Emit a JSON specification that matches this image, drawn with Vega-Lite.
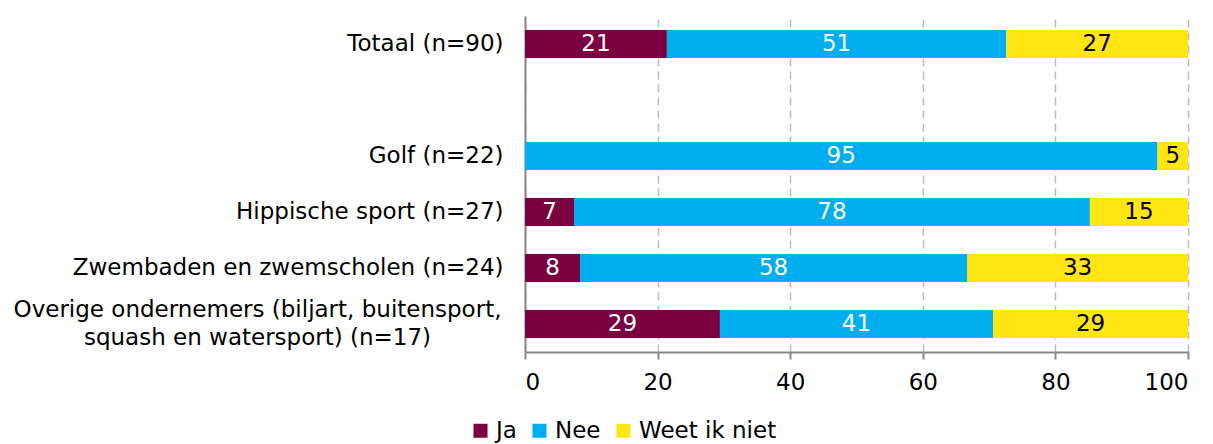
{
  "$schema": "https://vega.github.io/schema/vega-lite/v6.json",
  "autosize": "none",
  "width": 663,
  "height": 336,
  "padding": {"left": 525, "top": 16, "right": 25, "bottom": 92},
  "background": "white",
  "config": {
    "font": "DejaVu Sans",
    "view": {"stroke": null}
  },
  "data": {
    "values": [
      {"group": "Totaal (n=90)", "answer": "Ja", "order": 1, "value": 21.4},
      {"group": "Totaal (n=90)", "answer": "Nee", "order": 2, "value": 51.2},
      {"group": "Totaal (n=90)", "answer": "Weet ik niet", "order": 3, "value": 27.4},
      {"group": "Golf (n=22)", "answer": "Nee", "order": 2, "value": 95.4},
      {"group": "Golf (n=22)", "answer": "Weet ik niet", "order": 3, "value": 4.6},
      {"group": "Hippische sport (n=27)", "answer": "Ja", "order": 1, "value": 7.4},
      {"group": "Hippische sport (n=27)", "answer": "Nee", "order": 2, "value": 77.8},
      {"group": "Hippische sport (n=27)", "answer": "Weet ik niet", "order": 3, "value": 14.8},
      {"group": "Zwembaden en zwemscholen (n=24)", "answer": "Ja", "order": 1, "value": 8.3},
      {"group": "Zwembaden en zwemscholen (n=24)", "answer": "Nee", "order": 2, "value": 58.4},
      {"group": "Zwembaden en zwemscholen (n=24)", "answer": "Weet ik niet", "order": 3, "value": 33.3},
      {"group": "Overige ondernemers (biljart, buitensport,|squash en watersport) (n=17)", "answer": "Ja", "order": 1, "value": 29.4},
      {"group": "Overige ondernemers (biljart, buitensport,|squash en watersport) (n=17)", "answer": "Nee", "order": 2, "value": 41.2},
      {"group": "Overige ondernemers (biljart, buitensport,|squash en watersport) (n=17)", "answer": "Weet ik niet", "order": 3, "value": 29.4}
    ]
  },
  "transform": [
    {"stack": "value", "groupby": ["group"], "sort": [{"field": "order"}], "as": ["x0", "x1"]},
    {"calculate": "(datum.x0 + datum.x1) / 2", "as": "mid"}
  ],
  "encoding": {
    "y": {
      "field": "group",
      "type": "nominal",
      "scale": {
        "domain": ["Totaal (n=90)", " ", "Golf (n=22)", "Hippische sport (n=27)", "Zwembaden en zwemscholen (n=24)", "Overige ondernemers (biljart, buitensport,|squash en watersport) (n=17)"],
        "paddingInner": 0.5,
        "paddingOuter": 0.25
      },
      "axis": {
        "title": null,
        "labelExpr": "split(datum.label, '|')",
        "labelFontSize": 23,
        "labelColor": "black",
        "labelLineHeight": 28,
        "labelPadding": {"condition": {"test": "indexof(datum.value, '|') >= 0", "value": 268}, "value": 22},
        "labelAlign": {"condition": {"test": "indexof(datum.value, '|') >= 0", "value": "center"}, "value": "right"},
        "labelOffset": {"condition": {"test": "indexof(datum.value, '|') >= 0", "value": -14}, "value": 0},
        "labelLimit": 600,
        "ticks": false,
        "domainColor": "#888888",
        "domainWidth": 2
      }
    }
  },
  "layer": [
    {
      "mark": {"type": "bar"},
      "encoding": {
        "x": {
          "field": "x0",
          "type": "quantitative",
          "scale": {"domain": [0, 100], "nice": false},
          "axis": {
            "title": null,
            "values": [0, 20, 40, 60, 80, 100],
            "labelFontSize": 23,
            "labelColor": "black",
            "labelPadding": 12,
            "grid": true,
            "gridColor": "#bbbbbb",
            "gridDash": [8, 5],
            "gridWidth": 1.5,
            "domainColor": "#888888",
            "domainWidth": 2,
            "tickColor": "#888888",
            "tickWidth": 2,
            "tickSize": 7
          }
        },
        "x2": {"field": "x1"},
        "color": {
          "field": "answer",
          "type": "nominal",
          "scale": {"domain": ["Ja", "Nee", "Weet ik niet"], "range": ["#7a0040", "#00adef", "#ffe512"]},
          "legend": {
            "title": null,
            "orient": "none",
            "legendX": -56,
            "legendY": 403,
            "direction": "horizontal",
            "symbolType": "square",
            "symbolSize": 196,
            "symbolStrokeWidth": 0,
            "labelFontSize": 23,
            "labelColor": "black",
            "labelOffset": 4,
            "columnPadding": 11
          }
        }
      }
    },
    {
      "mark": {"type": "text", "fontSize": 23, "baseline": "middle", "align": "center"},
      "encoding": {
        "x": {"field": "mid", "type": "quantitative"},
        "text": {"field": "value", "type": "quantitative", "format": ".0f"},
        "color": {
          "condition": {"test": "datum.answer === 'Weet ik niet'", "value": "black"},
          "value": "white"
        }
      }
    }
  ]
}
